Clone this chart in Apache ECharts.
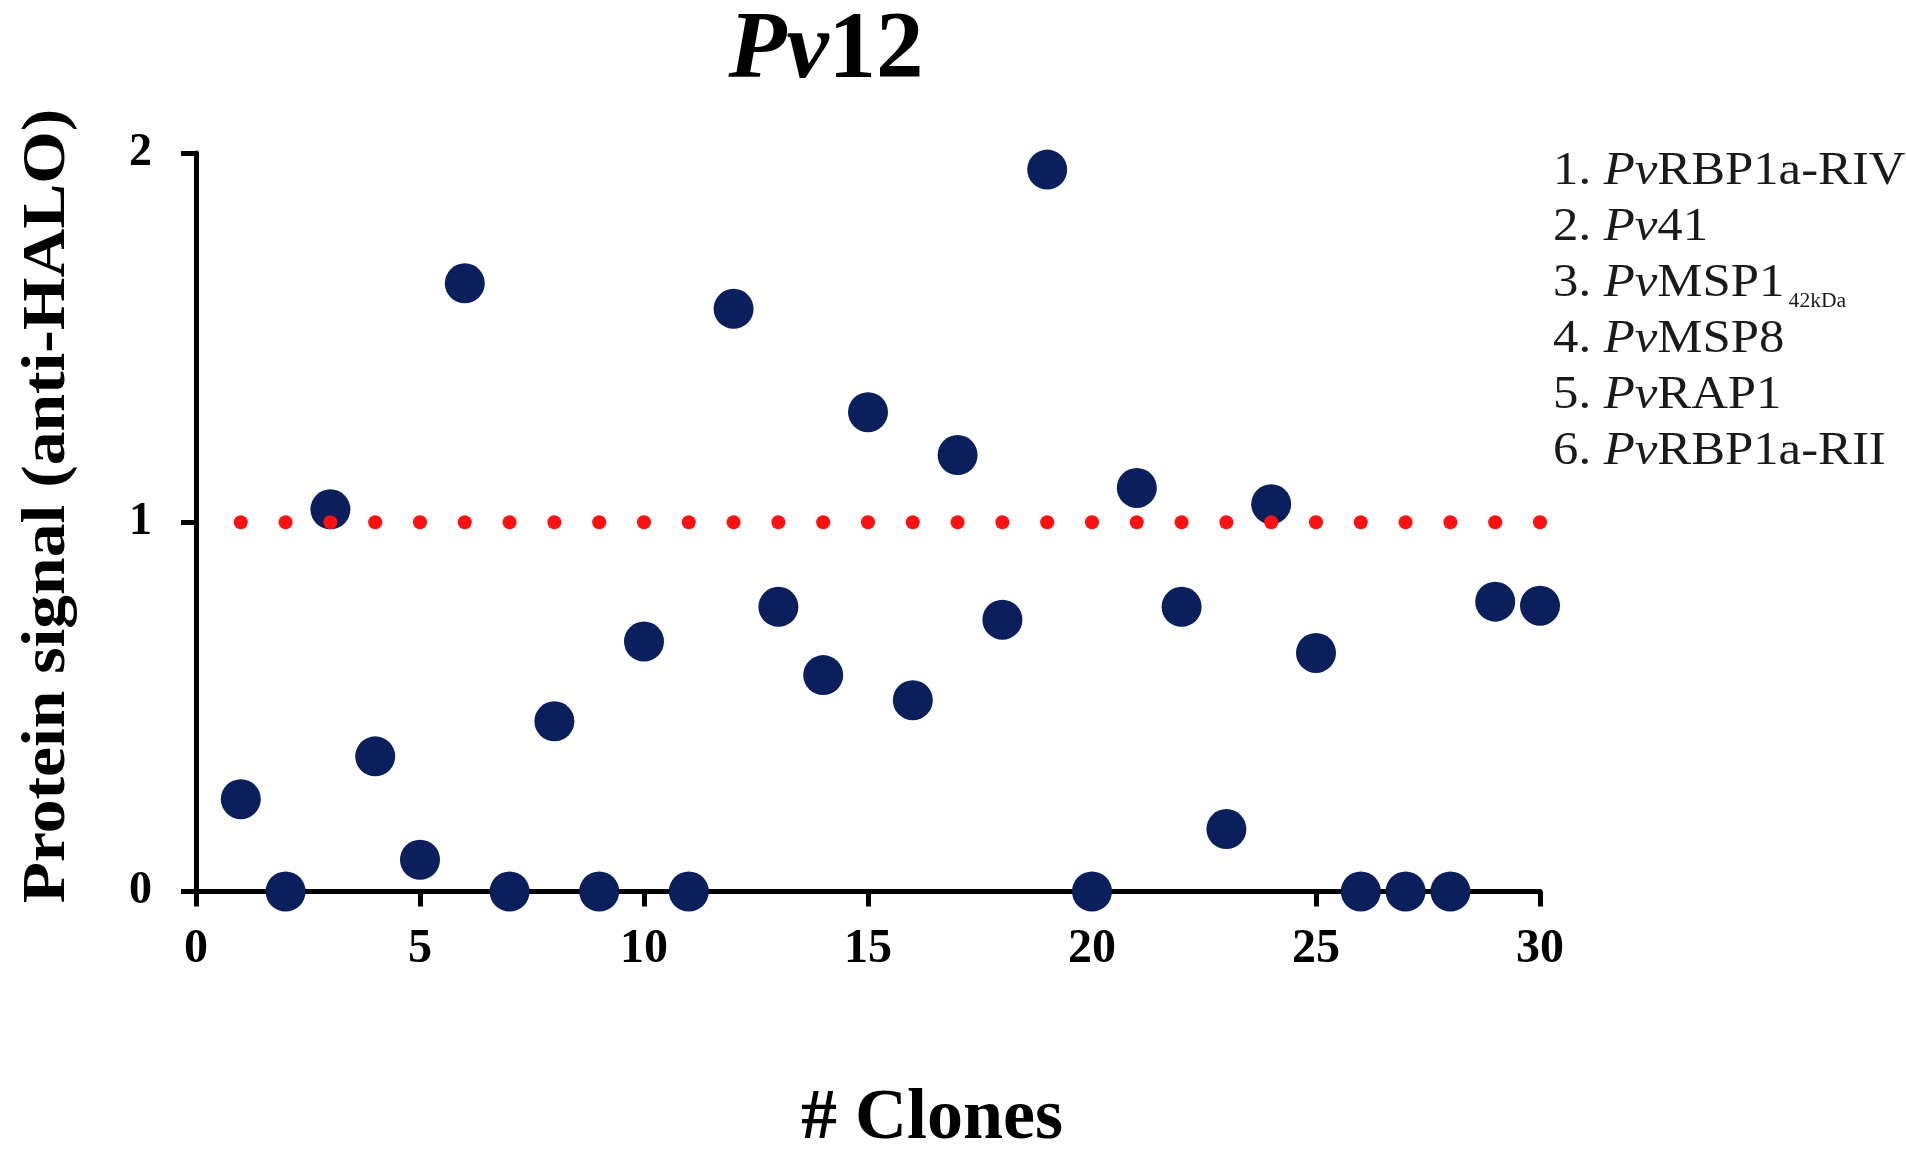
<!DOCTYPE html>
<html>
<head>
<meta charset="utf-8">
<script src="https://cdn.jsdelivr.net/npm/echarts@6/dist/echarts.min.js"></script>
<style>
html,body{margin:0;padding:0;background:#fff;}
#chart{width:1906px;height:1151px;}
</style>
</head>
<body>
<div id="chart"></div>
<script>
// ---- data ----
const clones = [1,2,3,4,5,6,7,8,9,10,11,12,13,14,15,16,17,18,19,20,21,22,23,24,25,26,27,28,29,30];
const signal = [0.25,0,1.035,0.366,0.086,1.647,0,0.461,0,0.677,0,1.578,0.771,0.586,1.298,0.518,1.182,0.736,1.955,0,1.093,0.771,0.169,1.049,0.646,0,0,0,0.785,0.774];
const thresholdX = [1,2,3,4,5,6,7,8,9,10,11,12,13,14,15,16,17,18,19,20,21,22,23,24,25,26,27,28,29,30];
const thresholdValue = 1;
const xTicks = [0,5,10,15,20,25,30];
const yTicks = [0,1,2];
const titleItalic = 'Pv';
const titleRest = '12';
const xName = '# Clones';
const yName = 'Protein signal (anti-HALO)';
const legendNums = ['1. ','2. ','3. ','4. ','5. ','6. '];
const legendPrefix = 'Pv';
const legendNames = ['RBP1a-RIV','41','MSP1','MSP8','RAP1','RBP1a-RII'];
const legendSubs = ['','','42kDa','','',''];

// ---- build ----
const serif = "'Liberation Serif','Times New Roman',serif";
const pts = clones.map((c,i)=>[c, signal[i]]);
const thr = thresholdX.map(x=>[x, thresholdValue]);
const legendText = legendNums.map((n,i)=>
  '{n|' + n + '}{i|' + legendPrefix + '}{n|' + legendNames[i] + '}' + (legendSubs[i] ? '{s|' + legendSubs[i] + '}' : '')
).join('\n');

const chart = echarts.init(document.getElementById('chart'), null, {renderer:'canvas'});
chart.setOption({
  animation: false,
  backgroundColor: '#ffffff',
  grid: { left: 196, right: 366, top: 153, bottom: 259.5, containLabel: false, outerBoundsMode: 'none' },
  xAxis: {
    type: 'value', min: xTicks[0], max: xTicks[xTicks.length-1], interval: 5,
    name: xName, nameLocation: 'middle', nameGap: 192,
    nameTextStyle: { fontFamily: serif, fontWeight: 'bold', fontSize: 72, color: '#000', lineHeight: 72, padding: [0,0,0,128] },
    axisLine: { onZero: false, lineStyle: { color: '#000', width: 5 } },
    axisTick: { show: true, inside: false, length: 15, lineStyle: { color: '#000', width: 5 } },
    axisLabel: { fontFamily: serif, fontWeight: 'bold', fontSize: 48, color: '#000', margin: 34, lineHeight: 48 },
    splitLine: { show: false }
  },
  yAxis: {
    type: 'value', min: yTicks[0], max: yTicks[yTicks.length-1], interval: 1,
    axisLine: { onZero: false, lineStyle: { color: '#000', width: 5 } },
    axisTick: { show: true, inside: false, length: 15, lineStyle: { color: '#000', width: 5 } },
    axisLabel: { fontFamily: serif, fontWeight: 'bold', fontSize: 46, color: '#000', margin: 44 },
    splitLine: { show: false }
  },
  series: [
    {
      type: 'scatter', data: pts, symbol: 'circle', symbolSize: 40,
      itemStyle: { color: '#0a1f5c', opacity: 1 }, z: 2, silent: true
    },
    {
      type: 'scatter', data: thr, symbol: 'circle', symbolSize: 14,
      itemStyle: { color: '#ff1010', opacity: 1 }, z: 3, silent: true
    }
  ],
  graphic: [
    {
      type: 'text', x: 826, y: 52, z: 10,
      style: {
        text: '{i|' + titleItalic + '}{b|' + titleRest + '}',
        textAlign: 'center', textVerticalAlign: 'middle',
        rich: {
          i: { fontFamily: serif, fontWeight: 'bold', fontStyle: 'italic', fontSize: 95, lineHeight: 95, fill: '#000', color: '#000' },
          b: { fontFamily: serif, fontWeight: 'bold', fontSize: 95, lineHeight: 95, fill: '#000', color: '#000' }
        }
      }
    },
    {
      type: 'text', x: 48, y: 506, rotation: Math.PI / 2, scaleX: 1.09, z: 10,
      style: {
        text: yName,
        font: "bold 62px 'Liberation Serif','Times New Roman',serif",
        fill: '#000',
        textAlign: 'center', textVerticalAlign: 'middle'
      }
    },
    {
      type: 'text', x: 1553, y: 144, scaleX: 1.08, z: 10,
      style: {
        text: legendText,
        textAlign: 'left', textVerticalAlign: 'top',
        rich: {
          n: { fontFamily: serif, fontSize: 47, lineHeight: 56, fill: '#1a1a1a', color: '#1a1a1a' },
          i: { fontFamily: serif, fontStyle: 'italic', fontSize: 47, lineHeight: 56, fill: '#1a1a1a', color: '#1a1a1a' },
          s: { fontFamily: serif, fontSize: 20, lineHeight: 12, verticalAlign: 'bottom', padding: [0,0,0,4], fill: '#1a1a1a', color: '#1a1a1a' }
        }
      }
    }
  ]
});
</script>
</body>
</html>
